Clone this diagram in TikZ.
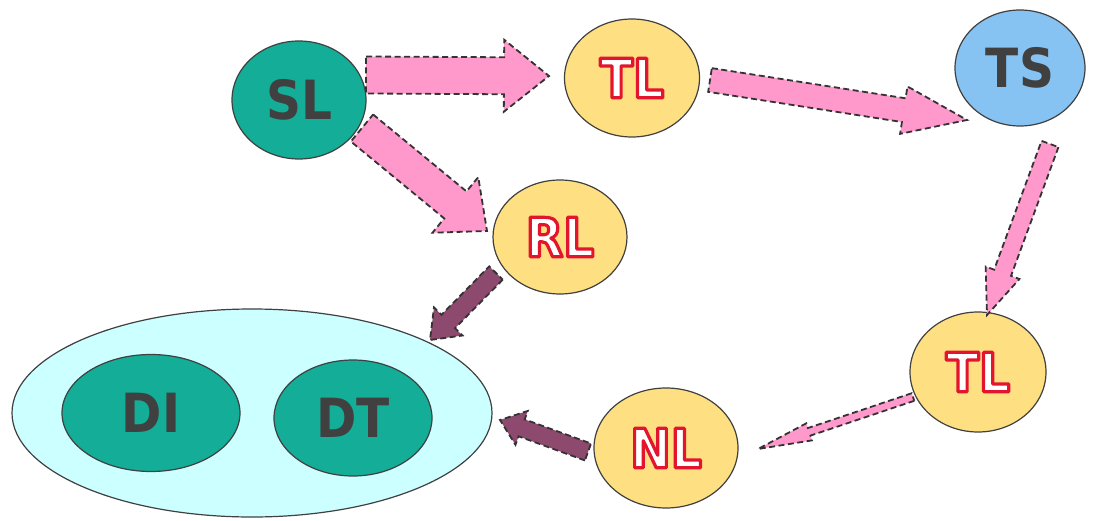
\documentclass[tikz,border=0pt]{standalone}
\usepackage{fontspec}
\usepackage{xcolor}
\usepackage{tikz}
\usetikzlibrary{shapes.geometric,calc}

\newfontfamily\lblfont[FakeStretch=0.9]{DejaVu Sans}

\definecolor{tealfill}{HTML}{13AD98}
\definecolor{sunfill}{HTML}{FEDF82}
\definecolor{skyfill}{HTML}{86C3F2}
\definecolor{icefill}{HTML}{CCFFFF}
\definecolor{pinkarrow}{HTML}{FF99CC}
\definecolor{plumarrow}{HTML}{8E4A6E}
\definecolor{inkgray}{HTML}{404040}
\definecolor{dashgray}{HTML}{333333}

% white letters with a red rim (fill + stroke render mode)
\newcommand{\hollow}[1]{\textcolor{white}{\special{pdf:literal direct q 2 Tr 3.2 w 1 j 0.89 0.08 0.18 RG}#1\special{pdf:literal direct Q}}}

% block arrow: style, from, to, half shaft, half head, head length
\newcommand{\blockarrow}[6]{%
  \coordinate (hb) at ($(#3)!#6!(#2)$);
  \draw[#1] ($(#2)!#4!90:(#3)$) -- ($(hb)!#4!-90:(#2)$) -- ($(hb)!#5!-90:(#2)$) -- (#3)
    -- ($(hb)!#5!90:(#2)$) -- ($(hb)!#4!90:(#2)$) -- ($(#2)!#4!-90:(#3)$) -- cycle;
}

\begin{document}
\begin{tikzpicture}[x=1pt,y=-1pt,
    blob/.style={ellipse,draw=inkgray,line width=1.2pt,inner sep=0pt,
      font=\lblfont\bfseries\fontsize{54}{60}\selectfont,text=inkgray},
    pinkarr/.style={fill=pinkarrow,draw=dashgray,line width=1.8pt,dash pattern=on 6pt off 3.5pt},
    plumarr/.style={fill=plumarrow,draw=dashgray,line width=1.8pt,dash pattern=on 6pt off 3.5pt}]
  \useasboundingbox (0,0) rectangle (1099,521);

  % the store on the lower left
  \node[blob,fill=icefill,minimum width=480pt,minimum height=208pt] (store) at (252,413) {};
  \node[blob,fill=tealfill,minimum width=178pt,minimum height=117pt] (DI) at (151,413) {DI};
  \node[blob,fill=tealfill,minimum width=158pt,minimum height=116pt] (DT) at (353,418) {DT};

  \node[blob,fill=tealfill,minimum width=134pt,minimum height=118pt] (SL) at (299,100) {SL};
  \node[blob,fill=sunfill,minimum width=135pt,minimum height=118pt] (TLa) at (632,78) {\hollow{TL}};
  \node[blob,fill=skyfill,minimum width=130pt,minimum height=116pt] (TS) at (1020,68) {TS};
  \node[blob,fill=sunfill,minimum width=134pt,minimum height=114pt] (RL) at (560,237) {\hollow{RL}};
  \node[blob,fill=sunfill,minimum width=136pt,minimum height=120pt] (TLb) at (978,372) {\hollow{TL}};
  \node[blob,fill=sunfill,minimum width=144pt,minimum height=120pt] (NL) at (666,448) {\hollow{NL}};

  % arrow ends
  \coordinate (sl-tl-s) at (366,75);   \coordinate (sl-tl-e) at (549,76);
  \coordinate (tl-ts-s) at (710,80);   \coordinate (tl-ts-e) at (967,120);
  \coordinate (ts-tl-s) at (1050,144); \coordinate (ts-tl-e) at (987,315);
  \coordinate (sl-rl-s) at (362,128);  \coordinate (sl-rl-e) at (487,231);
  \coordinate (rl-st-s) at (496,273);  \coordinate (rl-st-e) at (430,340);
  \coordinate (tl-nl-s) at (913,397);  \coordinate (tl-nl-e) at (758,449);
  \coordinate (nl-st-s) at (588,452);  \coordinate (nl-st-e) at (500,420);

  \blockarrow{pinkarr}{sl-tl-s}{sl-tl-e}{18.5pt}{36pt}{45pt}
  \blockarrow{pinkarr}{tl-ts-s}{tl-ts-e}{12pt}{24pt}{64pt}
  \blockarrow{pinkarr}{ts-tl-s}{ts-tl-e}{9pt}{18pt}{45pt}
  \blockarrow{pinkarr}{sl-rl-s}{sl-rl-e}{17.5pt}{36pt}{41pt}
  \blockarrow{plumarr}{rl-st-s}{rl-st-e}{9.5pt}{20pt}{26pt}
  \blockarrow{pinkarr}{tl-nl-s}{tl-nl-e}{4pt}{9pt}{54pt}
  \blockarrow{plumarr}{nl-st-s}{nl-st-e}{9pt}{18pt}{23pt}
\end{tikzpicture}
\end{document}
